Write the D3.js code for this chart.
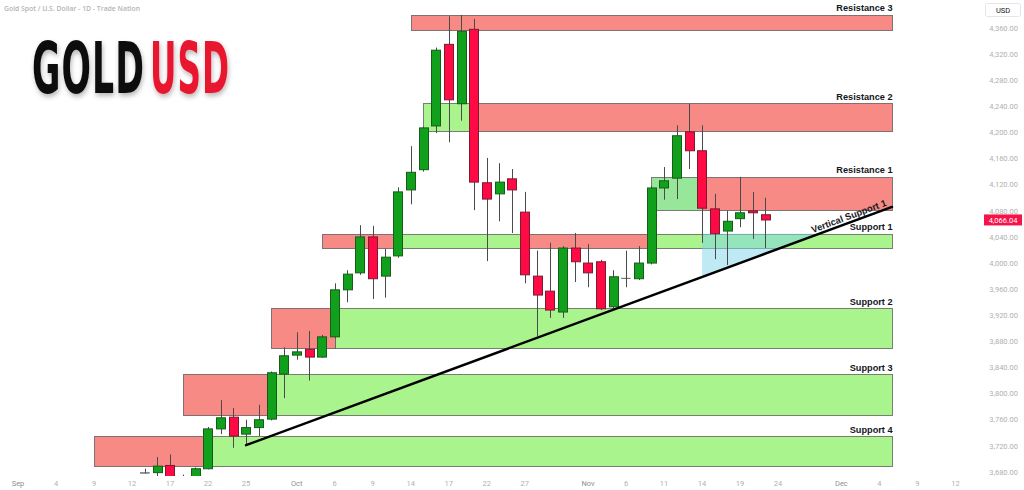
<!DOCTYPE html>
<html><head><meta charset="utf-8">
<script src="https://cdn.jsdelivr.net/npm/d3@7"></script>
<style>html,body{margin:0;padding:0;background:#fff;overflow:hidden}</style>
</head><body>
<svg id="chart" width="1024" height="490"></svg>
<script>
// ---------------- data ----------------
const candleDates = ["09-15","09-16","09-17","09-18","09-19","09-22","09-23","09-24","09-25","09-26","09-29","09-30",
  "10-01","10-02","10-03","10-06","10-07","10-08","10-09","10-10","10-13","10-14","10-15","10-16","10-17","10-20","10-21",
  "10-22","10-23","10-24","10-27","10-28","10-29","10-30","10-31","11-03","11-04","11-05","11-06","11-07","11-10","11-11",
  "11-12","11-13","11-14","11-17","11-18","11-19","11-20","11-21"];
const opens  = [3679,3679,3690,3660,3645,3685,3746,3764,3738,3748,3761,3830,3859,3868,3856,3887,3959,3985,4040,3980,4011,4112,4143,4210,4335,4244,4358,4123,4106,4129,4078,3980,3957,3925,4023,4000,4002,3933,3977,3976,4000,4115,4130,4201,4172,4083,4049,4068,4080,4074];
const highs  = [3685,3703,3707,3676,3687,3749,3790,3778,3760,3783,3834,3871,3894,3896,3890,3969,3989,4058,4057,4022,4116,4179,4209,4330,4378,4380,4374,4161,4153,4144,4109,4019,4031,4026,4046,4029,4005,3989,4019,4026,4118,4147,4211,4244,4211,4106,4080,4132,4109,4100];
const lows   = [3678,3656,3630,3628,3633,3684,3738,3717,3721,3735,3759,3793,3852,3820,3855,3885,3940,3982,3945,3947,4008,4090,4140,4199,4185,4218,4081,4003,4064,4046,3969,3888,3916,3916,3971,3963,3928,3930,3963,3974,3998,4097,4098,4144,4031,4006,3997,4055,4037,4023];
const closes = [3679,3689,3660,3644,3685,3746,3763,3735,3748,3760,3832,3858,3864,3856,3887,3959,3983,4040,3976,4009,4109,4139,4207,4326,4250,4355,4124,4098,4124,4112,3982,3951,3928,4023,4002,3985,3930,3979,3977,4000,4115,4126,4195,4172,4084,4045,4064,4077,4077,4066];

const tickDates  = ["09-01","09-04","09-09","09-12","09-17","09-22","09-25","10-01","10-06","10-09","10-14","10-17","10-22","10-27",
  "11-03","11-06","11-11","11-14","11-19","11-24","12-01","12-04","12-09","12-12"];
const tickLabels = ["Sep","4","9","12","17","22","25","Oct","6","9","14","17","22","27","Nov","6","11","14","19","24","Dec","4","9","12"];
const monthTicks = ["Sep","Oct","Nov","Dec"];

const priceTicks = [3680,3720,3760,3800,3840,3880,3920,3960,4000,4040,4080,4120,4160,4200,4240,4280,4320,4360];
const lastPrice = 4066.04;

const zoneNames   = ["Resistance 3","Resistance 2","Resistance 1","Support 1","Support 2","Support 3","Support 4"];
const zoneTops    = [4380,4245,4132,4045,3931,3830,3735];
const zoneBottoms = [4357,4202,4081,4023,3870,3767,3689];
const zoneEnd     = "12-05";

const segZone  = [0,1,1,2,2,3,3,3,3,4,4,5,5,6,6];
const segStart = ["10-14","10-15","10-21","11-10","11-14","10-03","10-13","10-27","11-10","09-29","10-06","09-18","09-29","09-09","09-22"];
const segEnd   = ["12-05","10-21","12-05","11-14","12-05","10-13","10-27","11-10","12-05","10-06","12-05","09-29","12-05","09-22","12-05"];
const segKind  = ["sell","buy","sell","flip","sell","sell","buy","sell","buy","sell","buy","sell","buy","sell","buy"];

const trendDates  = ["09-25","12-05"];
const trendPrices = [3721,4086];
const trendLabel  = "Vertical Support 1";
const triangleStart = "11-14";

const logoParts = ["GOLD","USD"];

// ---------------- setup ----------------
const svg = d3.select("#chart");
const parse = s => new Date(Date.UTC(2025, +s.slice(0,2)-1, +s.slice(3,5)));
const days = d3.utcDay.range(parse("09-01"), parse("12-13")).filter(d => d.getUTCDay() > 0 && d.getUTCDay() < 6);
const dayIndex = new Map(days.map((d,i)=>[d.getTime(), i]));
const idx = s => dayIndex.get(parse(s).getTime());

const x = d3.scaleLinear().domain([0, days.length-1]).range([18, 955.4]);
const y = d3.scaleLinear().domain([3680, 4360]).range([472, 28]);
const X = s => x(idx(s));

const defs = svg.append("defs");
defs.append("clipPath").attr("id","plot").append("rect").attr("x",0).attr("y",0).attr("width",958).attr("height",476);
const f = defs.append("filter").attr("id","shadow").attr("x","-10%").attr("y","-10%").attr("width","130%").attr("height","140%");
f.append("feDropShadow").attr("dx",1).attr("dy",3).attr("stdDeviation",2.5).attr("flood-color","#000").attr("flood-opacity",0.28);

const plot = svg.append("g").attr("clip-path","url(#plot)");

// ---------------- zones ----------------
const fills = {sell:"#f88a86", buy:"#a9f48d", flip:"#98e69a"};
const segs = segZone.map((z,i)=>({z, s:segStart[i], e:segEnd[i], k:segKind[i]}));
plot.append("g").selectAll("rect").data(segs).join("rect")
  .attr("x", d => Math.round(X(d.s)) + 0.5)
  .attr("y", d => Math.round(y(zoneTops[d.z])) + 0.5)
  .attr("width", d => Math.round(X(d.e)) - Math.round(X(d.s)))
  .attr("height", d => Math.round(y(zoneBottoms[d.z])) - Math.round(y(zoneTops[d.z])))
  .attr("fill", d => fills[d.k])
  .attr("stroke", "#555").attr("stroke-opacity", 0.75).attr("stroke-width", 1);

// ---------------- triangle ----------------
const tIdx = trendDates.map(idx);
const trendAt = i => trendPrices[0] + (i - tIdx[0]) / (tIdx[1]-tIdx[0]) * (trendPrices[1]-trendPrices[0]);
const idxAtPrice = p => tIdx[0] + (p - trendPrices[0]) / (trendPrices[1]-trendPrices[0]) * (tIdx[1]-tIdx[0]);
const ti = idx(triangleStart);
const topP = zoneTops[3];
plot.append("path")
  .attr("d", d3.line()([[x(ti), y(topP)], [x(ti), y(trendAt(ti))], [x(idxAtPrice(topP)), y(topP)]]) + "Z")
  .attr("fill", "#7fd6ea").attr("fill-opacity", 0.5);

// ---------------- candles ----------------
const candles = candleDates.map((d,i)=>({d, o:opens[i], h:highs[i], l:lows[i], c:closes[i]}));
const bw = 9.5;
const cg = plot.append("g");
cg.selectAll("line").data(candles).join("line")
  .attr("x1", d => Math.round(X(d.d)) + 0.5).attr("x2", d => Math.round(X(d.d)) + 0.5)
  .attr("y1", d => y(d.h)).attr("y2", d => y(d.l))
  .attr("stroke", "#4a4a4a").attr("stroke-width", 1);
cg.selectAll("rect").data(candles).join("rect")
  .attr("x", d => Math.round(X(d.d) - bw/2) + 0.5)
  .attr("y", d => y(Math.max(d.o, d.c)))
  .attr("width", bw - 0.5)
  .attr("height", d => Math.max(0.6, Math.abs(y(d.o) - y(d.c))))
  .attr("fill", d => d.c > d.o ? "#11a01b" : (d.c < d.o ? "#ff0a45" : "#4a4a4a"))
  .attr("stroke", d => d.c > d.o ? "#175c1b" : (d.c < d.o ? "#7e1a30" : "#4a4a4a"))
  .attr("stroke-width", d => d.c === d.o ? 0.4 : 1);

// ---------------- trendline ----------------
plot.append("line")
  .attr("x1", X(trendDates[0])).attr("y1", y(trendPrices[0]))
  .attr("x2", X(trendDates[1])).attr("y2", y(trendPrices[1]))
  .attr("stroke", "#000").attr("stroke-width", 2.4).attr("stroke-linecap","round");

const ang = Math.atan2(y(trendPrices[1]) - y(trendPrices[0]), X(trendDates[1]) - X(trendDates[0])) * 180 / Math.PI;
const lx = X(trendDates[1]) - 4;
const ly = y(trendPrices[0]) + (lx - X(trendDates[0])) * Math.tan(ang*Math.PI/180);
svg.append("text")
  .attr("transform", `translate(${lx},${ly}) rotate(${ang}) translate(0,-3)`)
  .attr("text-anchor","end")
  .attr("font-family","'Liberation Sans', Arial, sans-serif").attr("font-weight","bold").attr("font-size",9.3)
  .attr("fill","#131722").text(trendLabel);

// zone labels
svg.append("g").selectAll("text").data(zoneNames).join("text")
  .attr("x", X(zoneEnd) + 0.5)
  .attr("y", (d,i) => y(zoneTops[i]) - 3.5)
  .attr("text-anchor","end")
  .attr("font-family","'Liberation Sans', Arial, sans-serif").attr("font-weight","bold").attr("font-size",9.2)
  .attr("fill","#131722").text(d => d);

// ---------------- axes ----------------
svg.append("g").selectAll("text").data(tickLabels).join("text")
  .attr("x", (d,i) => X(tickDates[i]))
  .attr("y", 486)
  .attr("text-anchor","middle")
  .attr("font-family","Roboto, 'Noto Sans', sans-serif").attr("font-size",7.5)
  .attr("fill", d => monthTicks.includes(d) ? "#8f8f8f" : "#b0b0b0")
  .text(d => d);

const fmt = d3.format(",.2f");
svg.append("g").selectAll("text").data(priceTicks).join("text")
  .attr("x", 1018).attr("y", d => y(d) + 2.7)
  .attr("text-anchor","end")
  .attr("font-family","Roboto, 'Noto Sans', sans-serif").attr("font-size",7.5)
  .attr("fill","#b0b0b0").text(d => fmt(d));

// USD box
svg.append("rect").attr("x",985.5).attr("y",3.5).attr("width",35).attr("height",13).attr("rx",2)
  .attr("fill","#fff").attr("stroke","#e3e5ea");
svg.append("text").attr("x",1003).attr("y",12.6).attr("text-anchor","middle")
  .attr("font-family","Roboto, 'Noto Sans', sans-serif").attr("font-size",7.5).attr("fill","#131722").text("USD");

// last price label
svg.append("rect").attr("x",984).attr("y",y(lastPrice)-5.5).attr("width",38).attr("height",11)
  .attr("fill","#f7124a");
svg.append("text").attr("x",1003).attr("y",y(lastPrice)+2.7).attr("text-anchor","middle")
  .attr("font-family","Roboto, 'Noto Sans', sans-serif").attr("font-size",7.5).attr("fill","#fff").text(fmt(lastPrice));

// ---------------- title & logo ----------------
svg.append("text").attr("x",4).attr("y",11)
  .attr("font-family","'Open Sans', 'Noto Sans', sans-serif").attr("font-weight",600).attr("font-size",7)
  .attr("textLength",136).attr("lengthAdjust","spacingAndGlyphs")
  .attr("fill","#b4b4b4").text("Gold Spot / U.S. Dollar - 1D - Trade Nation");

const logoX = [32, 150], logoW = [113, 80], logoCol = ["#0d0d0d", "#e8162f"];
const logo = svg.append("g").attr("filter","url(#shadow)");
logoParts.forEach((t,i) => {
  const tx = logo.append("text")
    .attr("font-family","'Liberation Sans Narrow', 'DejaVu Sans Condensed', 'Liberation Sans', sans-serif")
    .attr("font-weight","bold").attr("font-size",71).attr("letter-spacing",2)
    .attr("fill", logoCol[i]).text(t);
  const w = tx.node().getBBox().width;
  tx.attr("transform", `translate(${logoX[i]},93) scale(${logoW[i]/w},1)`);
});
</script>
</body></html>
